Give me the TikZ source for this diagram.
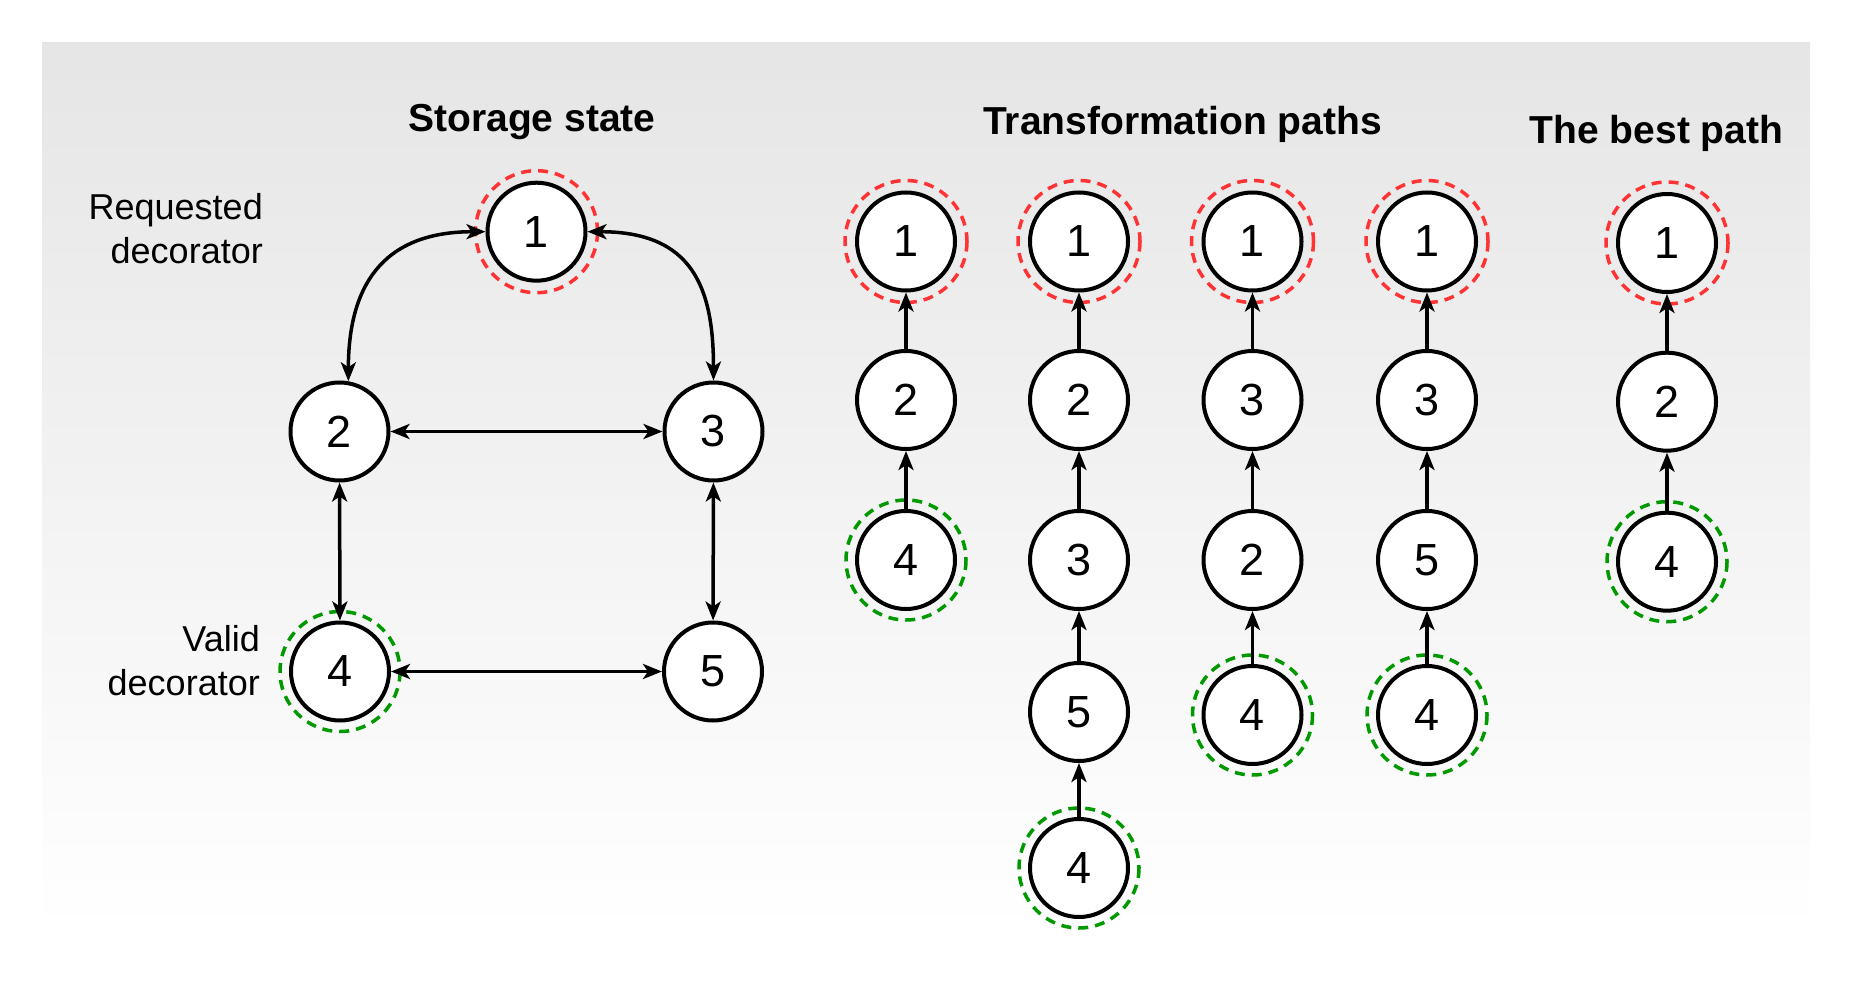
\documentclass[tikz,border=0pt]{standalone}
\usepackage{fontspec}
\setmainfont{Liberation Sans}
\usetikzlibrary{arrows.meta}
\definecolor{ringred}{HTML}{FF3333}
\definecolor{ringgreen}{HTML}{009900}
\begin{document}
\begin{tikzpicture}[x=1pt,y=-1pt,
  dnode/.style={circle, draw=black, line width=4pt, fill=white, minimum size=98pt, inner sep=0pt, font=\fontsize{45}{54}\selectfont},
  reqring/.style={draw=ringred, line width=3.5pt, dash pattern=on 10pt off 7pt},
  validring/.style={draw=ringgreen, line width=3.5pt, dash pattern=on 10pt off 7pt},
  tip/.tip={Stealth[length=19pt,width=15pt,inset=5pt]},
  arr/.style={line width=3.5pt, -tip},
  biarr/.style={line width=3.5pt, tip-tip},
  title/.style={font=\fontsize{39}{47}\selectfont\bfseries, anchor=base, inner sep=0pt},
  side/.style={font=\fontsize{36}{43.3}\selectfont, align=right, anchor=base east, inner sep=0pt}
]
\useasboundingbox (0,0) rectangle (1856,992);
\shade[top color=gray!20, bottom color=white] (42,43) rectangle (1810,932);

% titles and labels
\node[title] (tstore) at (532,131.7) {Storage state};
\node[title] (ttrans) at (1182.5,135) {Transformation paths};
\node[title] (tbest) at (1656.5,143.3) {The best path};
\node[side] (lreq) at (263,263.3) {Requested\\decorator};
\node[side] (lvalid) at (260,695) {Valid\\decorator};

% storage state
\node[dnode] (s1) at (536.5,231.7) {1};
\node[dnode] (s2) at (339.5,431.5) {2};
\node[dnode] (s3) at (713.5,431.5) {3};
\node[dnode] (s4) at (340,671.5) {4};
\node[dnode] (s5) at (713,671.5) {5};

% transformation paths
\node[dnode] (a1) at (906,241.5) {1};
\node[dnode] (a2) at (906,400) {2};
\node[dnode] (a3) at (906,560) {4};

\node[dnode] (b1) at (1079,241.5) {1};
\node[dnode] (b2) at (1079,400) {2};
\node[dnode] (b3) at (1079,560) {3};
\node[dnode] (b4) at (1079,712) {5};
\node[dnode] (b5) at (1079,868) {4};

\node[dnode] (c1) at (1252.5,241.5) {1};
\node[dnode] (c2) at (1252.5,400) {3};
\node[dnode] (c3) at (1252.5,560) {2};
\node[dnode] (c4) at (1252.5,715) {4};

\node[dnode] (d1) at (1427,241.5) {1};
\node[dnode] (d2) at (1427,400) {3};
\node[dnode] (d3) at (1427,560) {5};
\node[dnode] (d4) at (1427,715) {4};

% best path
\node[dnode] (e1) at (1667,243) {1};
\node[dnode] (e2) at (1667,401.7) {2};
\node[dnode] (e3) at (1667,561.7) {4};

% rings
\foreach \n in {s1,a1,b1,c1,d1,e1} \draw[reqring] (\n.center) circle[radius=61];
\foreach \n in {s4,a3,b5,c4,d4,e3} \draw[validring] (\n.center) circle[radius=60];

% storage connectors
\draw[biarr] (s1.west) .. controls +(-105,0) and +(0,-93) .. (s2.80);
\draw[biarr] (s1.east) .. controls +(105,0) and +(0,-93) .. (s3.north);
\draw[biarr] (s2) -- (s3);
\draw[biarr] (s2) -- (s4);
\draw[biarr] (s3) -- (s5);
\draw[biarr] (s4) -- (s5);

% path connectors
\draw[arr] (a2) -- (a1);
\draw[arr] (a3) -- (a2);
\draw[arr] (b2) -- (b1);
\draw[arr] (b3) -- (b2);
\draw[arr] (b4) -- (b3);
\draw[arr] (b5) -- (b4);
\draw[arr] (c2) -- (c1);
\draw[arr] (c3) -- (c2);
\draw[arr] (c4) -- (c3);
\draw[arr] (d2) -- (d1);
\draw[arr] (d3) -- (d2);
\draw[arr] (d4) -- (d3);
\draw[arr] (e2) -- (e1);
\draw[arr] (e3) -- (e2);
\end{tikzpicture}
\end{document}
